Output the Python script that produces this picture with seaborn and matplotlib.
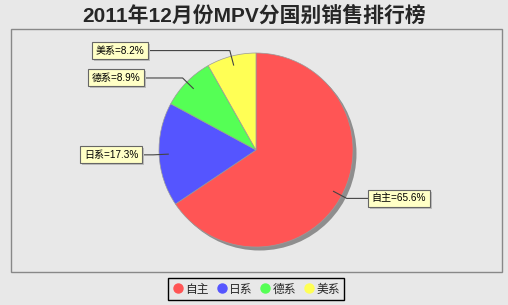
import numpy as np
import matplotlib
matplotlib.use("Agg")
import matplotlib.pyplot as plt
from matplotlib.patches import Rectangle, Circle
from matplotlib.lines import Line2D
import seaborn as sns

sns.set_style("white")
plt.rcParams['font.family'] = ['Liberation Sans', 'Noto Sans CJK SC', 'DejaVu Sans']

title = "2011年12月份MPV分国别销售排行榜"
categories = ["自主", "日系", "德系", "美系"]
values = [65.6, 17.3, 8.9, 8.2]
colors = ["#FF5555", "#5555FF", "#55FF55", "#FFFF55"]

W, H = 508, 305
BG = "#E8E8E8"
fig = plt.figure(figsize=(W / 100, H / 100), dpi=100, facecolor=BG)
ax = fig.add_axes([0, 0, 1, 1])
ax.set_facecolor(BG)

def Y(y):
    return H - y

# plot area border
ax.add_patch(Rectangle((11, Y(272)), 491, 243, fill=False, edgecolor="#888888", lw=1.0, zorder=1))

cx, cy, R = 256, 150, 97
# shadow
ax.add_patch(Circle((cx + 3.5, Y(cy) - 3.5), R, color="#8E8E8E", lw=0, zorder=2))
wedges, _ = ax.pie(values, colors=colors, startangle=90, counterclock=False,
                   center=(cx, Y(cy)), radius=R, frame=True,
                   wedgeprops=dict(edgecolor="#9A9A9A", linewidth=0.5))
for w in wedges:
    w.set_zorder(3)
ax.set_xlim(0, W)
ax.set_ylim(0, H)
ax.set_aspect("auto")
ax.axis("off")

# labels
label_edge_x = [369, 141, 143, 147]   # box edge near the leader line
total = sum(values)
cum = 0.0
label_texts = []
for i, (cat, v) in enumerate(zip(categories, values)):
    mid = (cum + v / 2) / total
    cum += v
    ang = np.deg2rad(90 - mid * 360)
    ax_x, ax_y = cx + 0.9 * R * np.cos(ang), Y(cy) + 0.9 * R * np.sin(ang)
    el_x, el_y = cx + 1.06 * R * np.cos(ang), Y(cy) + 1.06 * R * np.sin(ang)
    ex = label_edge_x[i]
    ax.plot([ax_x, el_x, ex], [ax_y, el_y, el_y], color="#444444", lw=0.8, zorder=4,
            solid_capstyle="butt")
    right = ex > cx
    pad = 2.8
    tx = ex + pad if right else ex - pad
    t = ax.text(tx, el_y, f"{cat}={v}%", ha="left" if right else "right", va="center",
                fontsize=7.2, color="black", zorder=6,
                bbox=dict(boxstyle="square,pad=0.35", fc="#FFFFC6", ec="#666666", lw=0.8))
    label_texts.append(t)

# title
ax.text(W / 2, Y(16), title, ha="center", va="center", fontsize=15, fontweight="bold", zorder=6)

# legend
handles = [Line2D([0], [0], marker="o", linestyle="none", markersize=6.5,
                  markerfacecolor=c, markeredgecolor=c) for c in colors]
leg = fig.legend(handles, categories, loc="center", bbox_to_anchor=(256 / W, 1 - 289 / H),
                 ncol=4, frameon=True, handletextpad=0.1, columnspacing=0.6,
                 borderpad=0.35, handlelength=1.0, fancybox=False,
                 prop={'family': ['Noto Sans CJK SC'], 'size': 8.5})
leg.get_frame().set_edgecolor("black")
leg.get_frame().set_facecolor(BG)
leg.get_frame().set_linewidth(1.0)
leg.get_frame().set_alpha(1)

# label box shadows
fig.canvas.draw()
renderer = fig.canvas.get_renderer()
inv = ax.transData.inverted()
for t in label_texts:
    bb = t.get_bbox_patch().get_window_extent(renderer)
    (x0, y0), (x1, y1) = inv.transform([[bb.x0, bb.y0], [bb.x1, bb.y1]])
    ax.add_patch(Rectangle((x0 + 2, y0 - 2), x1 - x0, y1 - y0, fc="#BDBDBD", ec="none", zorder=5))

fig.savefig("out.png", dpi=100, facecolor=BG)
